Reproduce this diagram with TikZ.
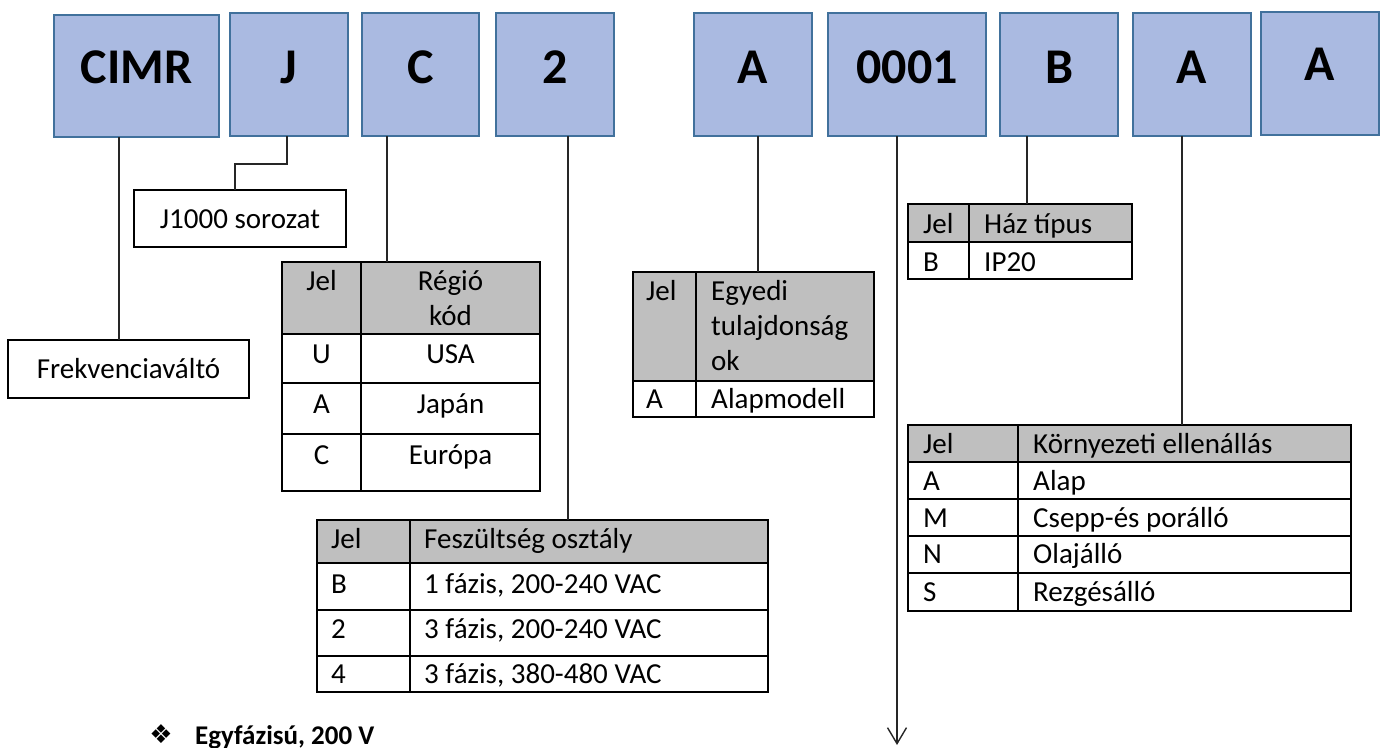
\documentclass[tikz,border=0pt]{standalone}
\usepackage{fontspec}
\setmainfont{Carlito}
\newfontfamily\dejavu{DejaVu Sans}
\usetikzlibrary{arrows.meta}
\definecolor{boxfill}{RGB}{170,186,225}
\definecolor{boxline}{RGB}{65,113,156}
\definecolor{hdr}{RGB}{191,191,191}
\tikzset{
  codebox/.style={draw=boxline, fill=boxfill, line width=2pt, anchor=north west, inner sep=0pt, outer sep=0pt},
  codetxt/.style={font=\fontsize{50}{60}\selectfont\bfseries, anchor=base, inner sep=0pt},
  cell/.style={draw=black, line width=2pt, anchor=north west, inner sep=0pt, outer sep=0pt},
  hcell/.style={cell, fill=hdr},
  ttxt/.style={font=\fontsize{29}{35}\selectfont, inner sep=0pt, anchor=base west},
  ctxt/.style={font=\fontsize{29}{35}\selectfont, inner sep=0pt, anchor=base},
  conn/.style={draw=black!85, line width=1.4pt},
}
\begin{document}
\begin{tikzpicture}[x=1pt, y=-1pt]
\useasboundingbox (0,0) rectangle (1383,747);

% top code boxes
\node[codebox, minimum width=165pt, minimum height=122pt] (bCIMR) at (54,15) {};
\node[codebox, minimum width=118pt, minimum height=123pt] (bJ) at (230,13) {};
\node[codebox, minimum width=117pt, minimum height=123pt] (bC) at (362,13) {};
\node[codebox, minimum width=118pt, minimum height=123pt] (b2) at (496,13) {};
\node[codebox, minimum width=118pt, minimum height=123pt] (bA1) at (694,13) {};
\node[codebox, minimum width=158pt, minimum height=123pt] (b0001) at (828,13) {};
\node[codebox, minimum width=118pt, minimum height=123pt] (bB) at (1000,13) {};
\node[codebox, minimum width=118pt, minimum height=123pt] (bA2) at (1133,13) {};
\node[codebox, minimum width=118pt, minimum height=123pt] (bA3) at (1261,12) {};

\node[codetxt] (tCIMR) at (136.5,83) {CIMR};
\node[codetxt] (tJ) at (289,83) {J};
\node[codetxt] (tC) at (420.5,83) {C};
\node[codetxt] (t2) at (555,83) {2};
\node[codetxt] (tA1) at (753,83) {A};
\node[codetxt] (t0001) at (907,83) {0001};
\node[codetxt] (tB) at (1059,83) {B};
\node[codetxt] (tA2) at (1192,83) {A};
\node[codetxt] (tA3) at (1320,80) {A};

% Frekvenciavalto and J1000 boxes
\node[cell, minimum width=241pt, minimum height=58pt] (frek) at (8,340) {};
\node[ctxt] (frekt) at (128.5,378) {Frekvenciaváltó};
\node[cell, minimum width=212pt, minimum height=57pt] (jser) at (134,190) {};
\node[ctxt] (jsert) at (240,228) {J1000 sorozat};

% Region table
\node[hcell, minimum width=79pt, minimum height=72pt] (rh1) at (282,262) {};
\node[hcell, minimum width=179pt, minimum height=72pt] (rh2) at (361,262) {};
\node[cell, minimum width=79pt, minimum height=49pt] (r11) at (282,334) {};
\node[cell, minimum width=179pt, minimum height=49pt] (r12) at (361,334) {};
\node[cell, minimum width=79pt, minimum height=51pt] (r21) at (282,383) {};
\node[cell, minimum width=179pt, minimum height=51pt] (r22) at (361,383) {};
\node[cell, minimum width=79pt, minimum height=57pt] (r31) at (282,434) {};
\node[cell, minimum width=179pt, minimum height=57pt] (r32) at (361,434) {};
\node[ctxt] (rt1) at (321.5,290) {Jel};
\node[ctxt] (rt2) at (450.5,290) {Régió};
\node[ctxt] (rt3) at (450.5,325) {kód};
\node[ctxt] (rt4) at (321.5,363) {U};
\node[ctxt] (rt5) at (450.5,363) {USA};
\node[ctxt] (rt6) at (321.5,413) {A};
\node[ctxt] (rt7) at (450.5,413) {Japán};
\node[ctxt] (rt8) at (321.5,464) {C};
\node[ctxt] (rt9) at (450.5,464) {Európa};

% Egyedi table
\node[hcell, minimum width=63pt, minimum height=109pt] (eh1) at (633,272) {};
\node[hcell, minimum width=178pt, minimum height=109pt] (eh2) at (696,272) {};
\node[cell, minimum width=63pt, minimum height=36pt] (e11) at (633,381) {};
\node[cell, minimum width=178pt, minimum height=36pt] (e12) at (696,381) {};
\node[ttxt] (et1) at (646,300) {Jel};
\node[ttxt] (et2) at (711,300) {Egyedi};
\node[ttxt] (et3) at (711,335) {tulajdonság};
\node[ttxt] (et4) at (711,370) {ok};
\node[ttxt] (et5) at (646,408) {A};
\node[ttxt] (et6) at (711,408) {Alapmodell};

% Haz table
\node[hcell, minimum width=61pt, minimum height=38pt] (hh1) at (908,204) {};
\node[hcell, minimum width=163pt, minimum height=38pt] (hh2) at (969,204) {};
\node[cell, minimum width=61pt, minimum height=37pt] (h11) at (908,242) {};
\node[cell, minimum width=163pt, minimum height=37pt] (h12) at (969,242) {};
\node[ttxt] (ht1) at (923,233) {Jel};
\node[ttxt] (ht2) at (984,233) {Ház típus};
\node[ttxt] (ht3) at (923,271) {B};
\node[ttxt] (ht4) at (984,271) {IP20};

% Kornyezeti table
\node[hcell, minimum width=110pt, minimum height=37pt] (kh1) at (908,425) {};
\node[hcell, minimum width=333pt, minimum height=37pt] (kh2) at (1018,425) {};
\node[cell, minimum width=110pt, minimum height=37pt] (k11) at (908,462) {};
\node[cell, minimum width=333pt, minimum height=37pt] (k12) at (1018,462) {};
\node[cell, minimum width=110pt, minimum height=37pt] (k21) at (908,499) {};
\node[cell, minimum width=333pt, minimum height=37pt] (k22) at (1018,499) {};
\node[cell, minimum width=110pt, minimum height=37pt] (k31) at (908,536) {};
\node[cell, minimum width=333pt, minimum height=37pt] (k32) at (1018,536) {};
\node[cell, minimum width=110pt, minimum height=38pt] (k41) at (908,573) {};
\node[cell, minimum width=333pt, minimum height=38pt] (k42) at (1018,573) {};
\node[ttxt] (kt1) at (923,453) {Jel};
\node[ttxt] (kt2) at (1033,453) {Környezeti ellenállás};
\node[ttxt] (kt3) at (923,490) {A};
\node[ttxt] (kt4) at (1033,490) {Alap};
\node[ttxt] (kt5) at (923,527) {M};
\node[ttxt] (kt6) at (1033,527) {Csepp-és porálló};
\node[ttxt] (kt7) at (923,563) {N};
\node[ttxt] (kt8) at (1033,563) {Olajálló};
\node[ttxt] (kt9) at (923,601) {S};
\node[ttxt] (kt10) at (1033,601) {Rezgésálló};

% Feszultseg table
\node[hcell, minimum width=93pt, minimum height=43pt] (fh1) at (317,520) {};
\node[hcell, minimum width=358pt, minimum height=43pt] (fh2) at (410,520) {};
\node[cell, minimum width=93pt, minimum height=47pt] (f11) at (317,563) {};
\node[cell, minimum width=358pt, minimum height=47pt] (f12) at (410,563) {};
\node[cell, minimum width=93pt, minimum height=46pt] (f21) at (317,610) {};
\node[cell, minimum width=358pt, minimum height=46pt] (f22) at (410,610) {};
\node[cell, minimum width=93pt, minimum height=36pt] (f31) at (317,656) {};
\node[cell, minimum width=358pt, minimum height=36pt] (f32) at (410,656) {};
\node[ttxt] (ft1) at (331,548) {Jel};
\node[ttxt] (ft2) at (424,548) {Feszültség osztály};
\node[ttxt] (ft3) at (331,593) {B};
\node[ttxt] (ft4) at (424,593) {1 fázis, 200-240 VAC};
\node[ttxt] (ft5) at (331,638) {2};
\node[ttxt] (ft6) at (424,638) {3 fázis, 200-240 VAC};
\node[ttxt] (ft7) at (331,683) {4};
\node[ttxt] (ft8) at (424,683) {3 fázis, 380-480 VAC};

% connectors
\coordinate (cCIMR) at (119,137);
\coordinate (cJ) at (287,136);
\coordinate (cJb) at (235,164);
\coordinate (cC) at (387,136);
\coordinate (c2) at (568,136);
\coordinate (cA1) at (758,136);
\coordinate (c0001) at (897,136);
\coordinate (tip) at (897,745);
\coordinate (cB) at (1027,136);
\coordinate (cA2) at (1182,136);

\draw[conn] (cCIMR) -- (cCIMR |- frek.north);
\draw[conn] (cJ) |- (cJb) -- (cJb |- jser.north);
\draw[conn] (cC) -- (cC |- rh2.north);
\draw[conn] (c2) -- (c2 |- fh2.north);
\draw[conn] (cA1) -- (cA1 |- eh2.north);
\draw[conn, -{Straight Barb[length=16pt, width=19pt]}] (c0001) -- (tip);
\draw[conn] (cB) -- (cB |- hh2.north);
\draw[conn] (cA2) -- (cA2 |- kh2.north);

% bullet line
\node[inner sep=0pt] (bul) at (161,734) {\dejavu\fontsize{26}{30}\selectfont ❖};
\node[inner sep=0pt, anchor=base west, font=\fontsize{27}{32}\selectfont\bfseries] (bt) at (195,744) {Egyfázisú, 200 V};
\end{tikzpicture}
\end{document}
